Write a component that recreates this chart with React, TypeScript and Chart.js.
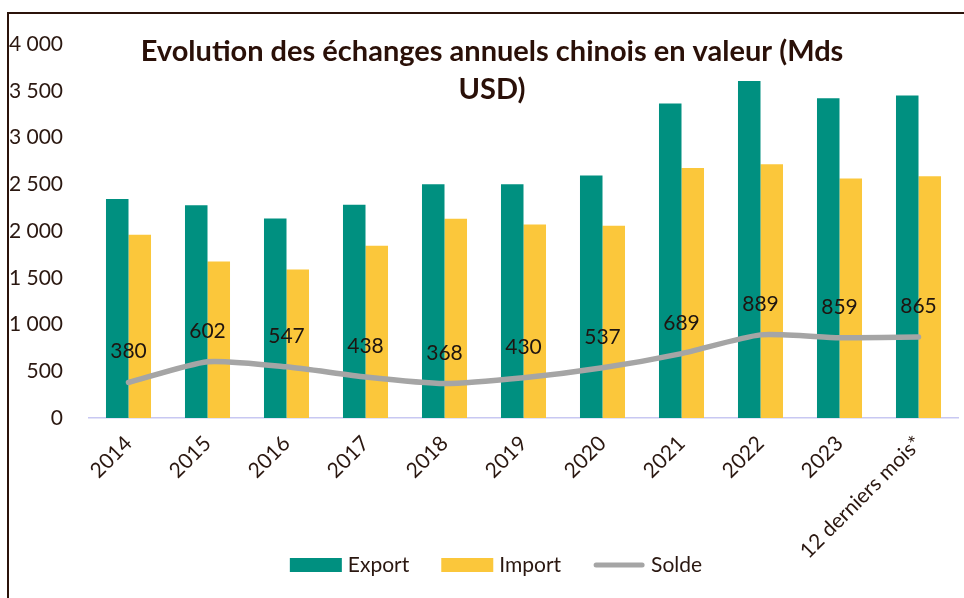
import React, { useEffect, useRef } from "react";
import { Chart, registerables } from "chart.js";

Chart.register(...registerables);

const categories = ["2014", "2015", "2016", "2017", "2018", "2019", "2020", "2021", "2022", "2023", "12 derniers mois*"];
const exportValues = [2342, 2275, 2135, 2280, 2500, 2499, 2593, 3364, 3604, 3420, 3450];
const importValues = [1960, 1673, 1588, 1842, 2132, 2069, 2056, 2675, 2715, 2561, 2585];
const soldeValues = [380, 602, 547, 438, 368, 430, 537, 689, 889, 859, 865];
const yTickValues = [0, 500, 1000, 1500, 2000, 2500, 3000, 3500, 4000];
const titleLines = ["Evolution des échanges annuels chinois en valeur (Mds", "USD)"];
const legendItems = ["Export", "Import", "Solde"];

const FONT = "Lato, 'Open Sans', sans-serif";
const TEXT = "#2a1710";
const EXPORT_COLOR = "#009080";
const IMPORT_COLOR = "#FBC73B";
const SOLDE_COLOR = "#A5A5A5";

function fmt(v: number): string {
  return String(v).replace(/\B(?=(\d{3})+(?!\d))/g, " ");
}

const overlayPlugin = {
  id: "overlay",
  afterDatasetsDraw(chart: any) {
    const ctx = chart.ctx;
    const meta = chart.getDatasetMeta(2);
    ctx.save();
    ctx.font = `21px ${FONT}`;
    ctx.fillStyle = "#1e1410";
    ctx.textAlign = "center";
    ctx.textBaseline = "alphabetic";
    meta.data.forEach((pt: any, i: number) => {
      ctx.fillText(String(soldeValues[i]), pt.x, pt.y - 24);
    });
    ctx.restore();
  },
  afterDraw(chart: any) {
    const ctx = chart.ctx;
    ctx.save();
    ctx.font = `bold 29px ${FONT}`;
    ctx.fillStyle = "#2a1008";
    ctx.textAlign = "center";
    ctx.textBaseline = "alphabetic";
    ctx.fillText(titleLines[0], 492, 61);
    ctx.fillText(titleLines[1], 492, 99);

    ctx.font = `21px ${FONT}`;
    const boxW = 52;
    const gapBoxText = 6;
    const gapItems = 32;
    const widths = legendItems.map((t) => ctx.measureText(t).width);
    const total = widths.reduce((a, w) => a + boxW + gapBoxText + w, 0) + gapItems * (legendItems.length - 1);
    let x = 496 - total / 2;
    const cy = 565;
    const colors = [EXPORT_COLOR, IMPORT_COLOR, SOLDE_COLOR];
    legendItems.forEach((t, i) => {
      if (i < 2) {
        ctx.fillStyle = colors[i];
        ctx.fillRect(x, cy - 7, boxW, 14);
      } else {
        ctx.strokeStyle = colors[i];
        ctx.lineWidth = 5;
        ctx.lineCap = "round";
        ctx.beginPath();
        ctx.moveTo(x + 3, cy);
        ctx.lineTo(x + boxW - 3, cy);
        ctx.stroke();
      }
      ctx.fillStyle = TEXT;
      ctx.textAlign = "left";
      ctx.fillText(t, x + boxW + gapBoxText, cy + 7);
      x += boxW + gapBoxText + widths[i] + gapItems;
    });
    ctx.restore();
  },
};

export default function App() {
  const canvasRef = useRef<HTMLCanvasElement | null>(null);

  useEffect(() => {
    if (!canvasRef.current) return;
    const chart = new Chart(canvasRef.current, {
      type: "bar",
      data: {
        labels: categories,
        datasets: [
          {
            type: "bar",
            label: "Export",
            data: exportValues,
            backgroundColor: EXPORT_COLOR,
            categoryPercentage: 0.57,
            barPercentage: 1,
            order: 2,
          },
          {
            type: "bar",
            label: "Import",
            data: importValues,
            backgroundColor: IMPORT_COLOR,
            categoryPercentage: 0.57,
            barPercentage: 1,
            order: 2,
          },
          {
            type: "line",
            label: "Solde",
            data: soldeValues,
            borderColor: SOLDE_COLOR,
            backgroundColor: SOLDE_COLOR,
            borderWidth: 5.5,
            pointRadius: 0,
            tension: 0.2,
            borderCapStyle: "round",
            borderJoinStyle: "round",
            order: 0,
          } as any,
        ],
      },
      options: {
        animation: false,
        responsive: true,
        maintainAspectRatio: false,
        layout: { padding: { left: 0, right: 6, top: 44, bottom: 0 } },
        plugins: {
          legend: { display: false },
          title: { display: false },
          tooltip: { enabled: false },
        },
        scales: {
          x: {
            grid: { display: false, drawTicks: false },
            border: { display: true, color: "#C8C8F2", width: 1.5 },
            ticks: {
              color: TEXT,
              font: { family: FONT, size: 21 },
              maxRotation: 45,
              minRotation: 45,
              autoSkip: false,
              padding: 13,
            },
            afterFit(scale: any) {
              scale.height = 180;
            },
          },
          y: {
            min: 0,
            max: 4000,
            grid: { display: false, drawTicks: false },
            border: { display: false },
            afterBuildTicks(scale: any) {
              scale.ticks = yTickValues.map((v) => ({ value: v }));
            },
            ticks: {
              color: TEXT,
              font: { family: FONT, size: 21 },
              padding: 26,
              callback: (v: any) => fmt(Number(v)),
            },
            afterFit(scale: any) {
              scale.width = 89;
            },
          },
        },
      },
      plugins: [overlayPlugin],
    });
    return () => chart.destroy();
  }, []);

  return (
    <div style={{ position: "absolute", left: 0, top: 0, width: 964, height: 598, background: "#fff" }}>
      <canvas ref={canvasRef} />
      <div
        style={{
          position: "absolute",
          left: 7,
          top: 12,
          right: 0,
          bottom: 0,
          borderTop: "2px solid #2b130a",
          borderLeft: "2px solid #2b130a",
          pointerEvents: "none",
        }}
      />
    </div>
  );
}
